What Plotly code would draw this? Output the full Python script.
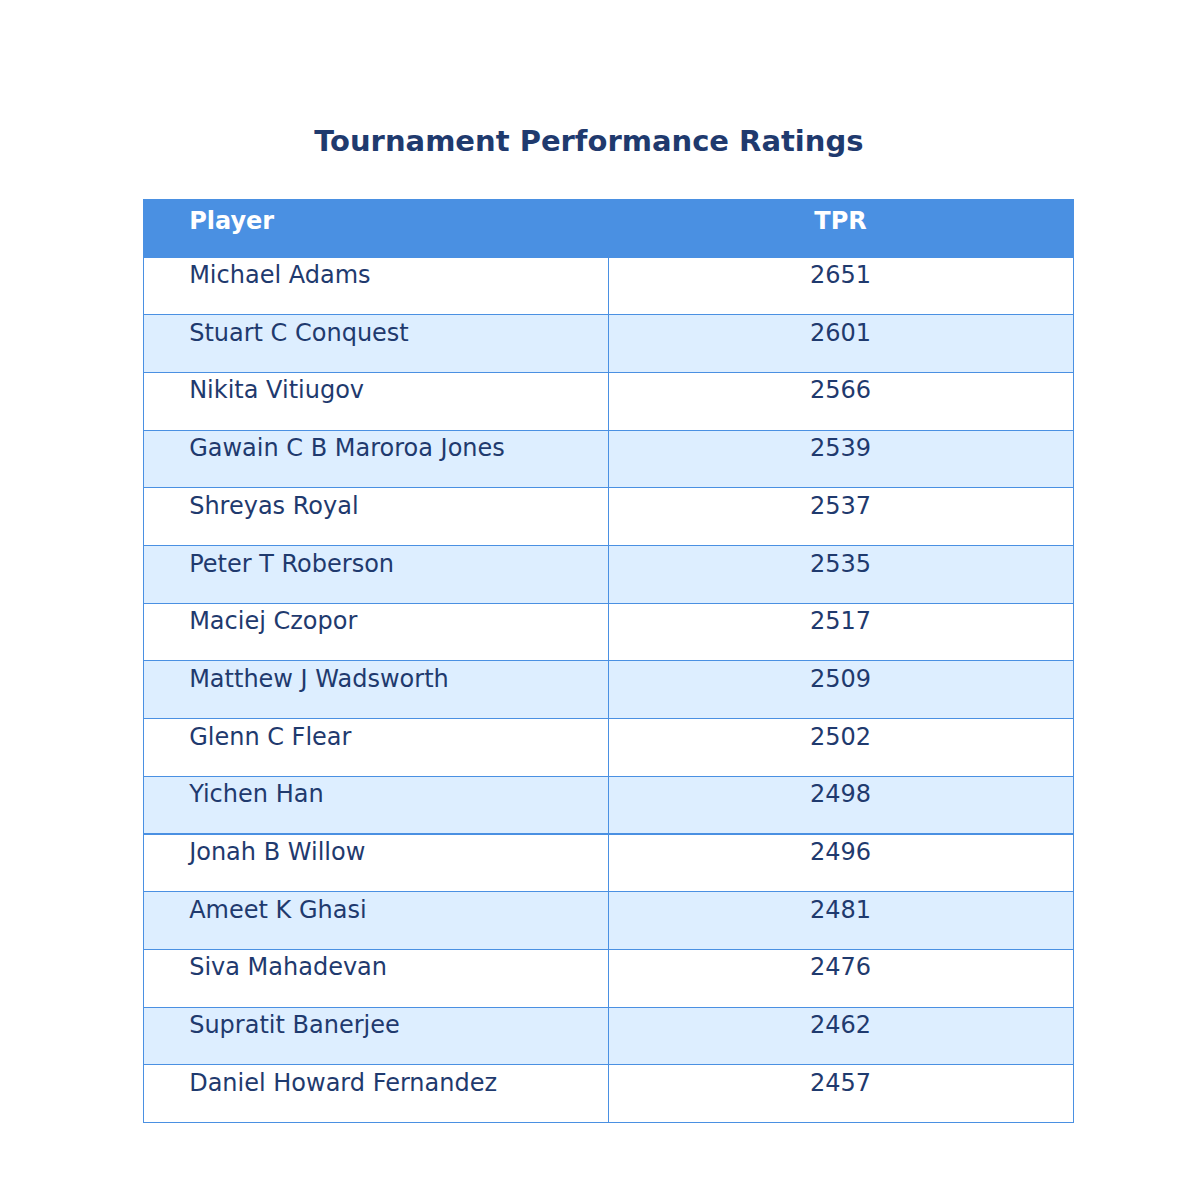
import plotly.graph_objects as go

players = [
    "Michael Adams", "Stuart C Conquest", "Nikita Vitiugov", "Gawain C B Maroroa Jones",
    "Shreyas Royal", "Peter T Roberson", "Maciej Czopor", "Matthew J Wadsworth",
    "Glenn C Flear", "Yichen Han", "Jonah B Willow", "Ameet K Ghasi",
    "Siva Mahadevan", "Supratit Banerjee", "Daniel Howard Fernandez",
]
tpr = [2651, 2601, 2566, 2539, 2537, 2535, 2517, 2509, 2502, 2498, 2496, 2481, 2476, 2462, 2457]

pad = "\u00a0" * 5
fills = ["#FFFFFF" if i % 2 == 0 else "#DDEEFF" for i in range(len(players))]

fig = go.Figure(
    go.Table(
        columnwidth=[1, 1],
        header=dict(
            values=[pad + "<b>Player</b>", "<b>TPR</b>"],
            fill_color="#4A90E2",
            line_color="#4A90E2",
            align=["left", "center"],
            font=dict(family="DejaVu Sans", size=24, color="white"),
            height=58,
        ),
        cells=dict(
            values=[[pad + p for p in players], tpr],
            fill_color=[fills, fills],
            line_color="#4A90E2",
            align=["left", "center"],
            font=dict(family="DejaVu Sans", size=24, color="#1F3A6E"),
            height=57.7,
        ),
    )
)

fig.update_layout(
    title=dict(
        text="<b>Tournament Performance Ratings</b>",
        x=0.484, xanchor="center", y=0.897,
        font=dict(family="DejaVu Sans", size=29, color="#1F3A6E"),
    ),
    width=1200, height=1192,
    margin=dict(l=135, r=135, t=191, b=70),
    paper_bgcolor="white",
)

fig.write_html("out.html")
